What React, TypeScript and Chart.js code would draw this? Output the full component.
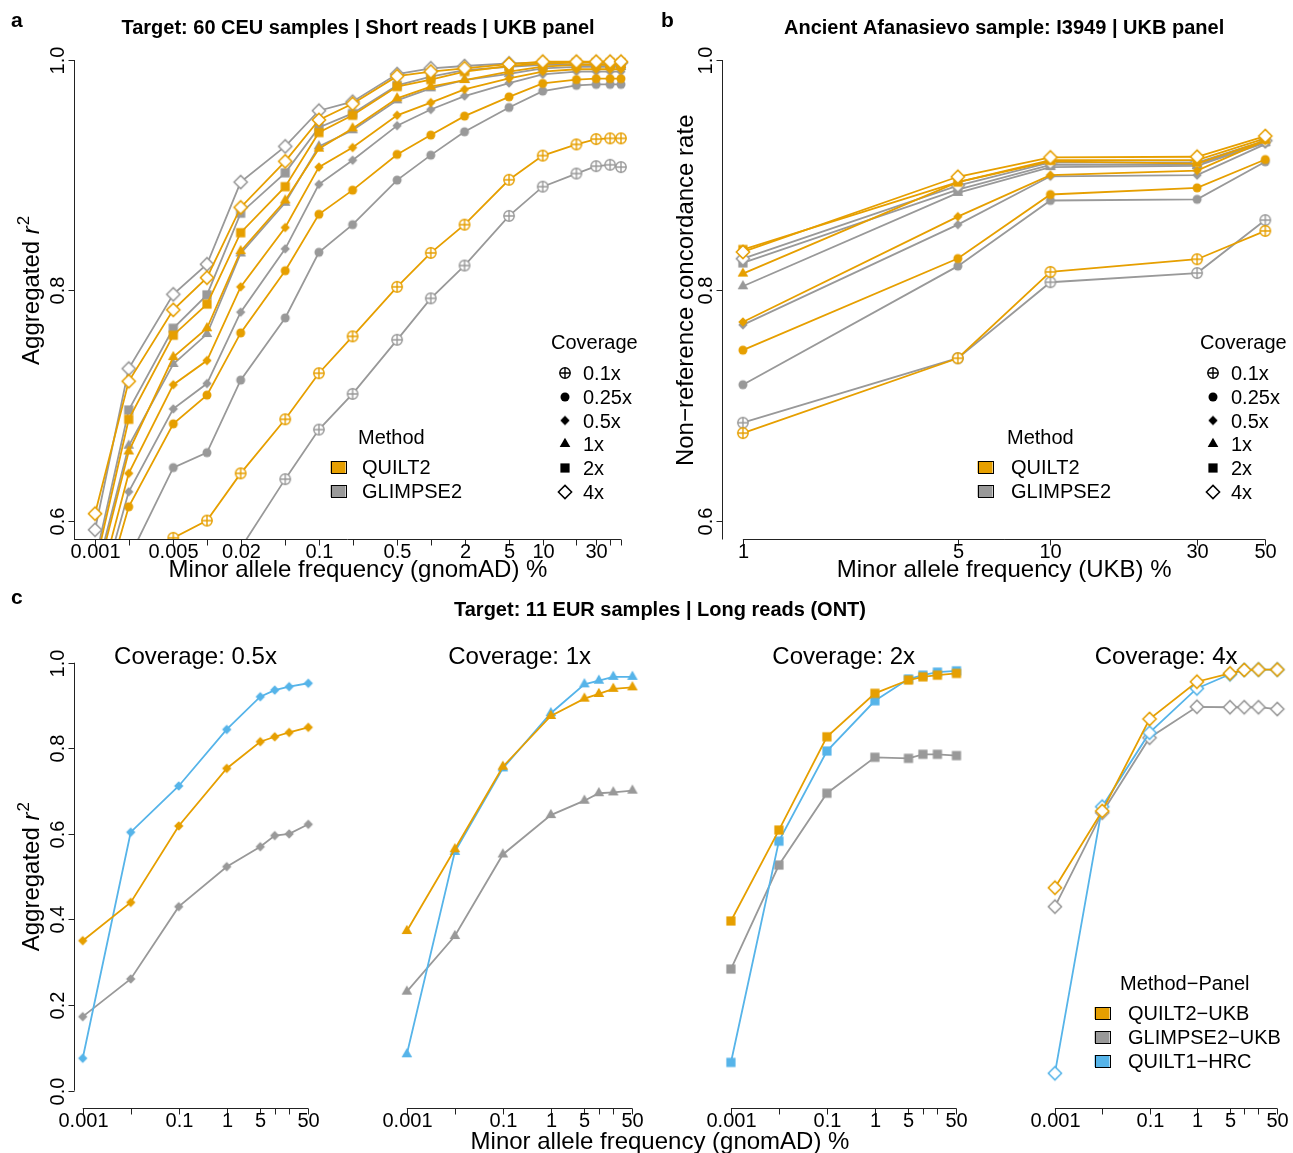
import React, { useEffect, useRef } from "react";
import { Chart, registerables } from "chart.js";
Chart.register(...registerables);

const W = 1293;
const H = 1153;
const ORANGE = "#E69F00";
const GRAY = "#999999";
const BLUE = "#56B4E9";
const FONT = '"Liberation Sans", Arial, Helvetica, sans-serif';

// ---------------- Panel a: 60 CEU, short reads, UKB panel ----------------
const mafA = [0.001, 0.002, 0.005, 0.01, 0.02, 0.05, 0.1, 0.2, 0.5, 1, 2, 5, 10, 20, 30, 40, 50];
const tickLabelsA = ["0.001", "", "0.005", "", "0.02", "", "0.1", "", "0.5", "", "2", "5", "10", "", "30", "", ""];
const a_QUILT2_4x = [0.606, 0.721, 0.783, 0.811, 0.872, 0.912, 0.948, 0.962, 0.986, 0.99, 0.9928, 0.9965, 0.9986, 0.9986, 0.9986, 0.9986, 0.9986];
const a_QUILT2_2x = [0.56, 0.688, 0.761, 0.788, 0.85, 0.89, 0.937, 0.952, 0.977, 0.983, 0.99, 0.9948, 0.997, 0.9977, 0.9977, 0.9977, 0.9977];
const a_QUILT2_1x = [0.545, 0.66, 0.742, 0.767, 0.834, 0.878, 0.923, 0.9406, 0.9667, 0.9768, 0.9826, 0.99, 0.9942, 0.9957, 0.9957, 0.9957, 0.9957];
const a_QUILT2_05x = [0.53, 0.641, 0.718, 0.739, 0.803, 0.8545, 0.907, 0.924, 0.952, 0.963, 0.9745, 0.984, 0.99, 0.992, 0.992, 0.992, 0.992];
const a_QUILT2_025x = [0.51, 0.612, 0.684, 0.709, 0.763, 0.817, 0.866, 0.887, 0.918, 0.9348, 0.9513, 0.968, 0.9797, 0.983, 0.9838, 0.9838, 0.9838];
const a_QUILT2_01x = [0.48, 0.53, 0.585, 0.6, 0.641, 0.688, 0.728, 0.76, 0.803, 0.8325, 0.857, 0.896, 0.917, 0.9267, 0.9313, 0.932, 0.932];
const a_GLIMPSE2_4x = [0.592, 0.732, 0.7965, 0.8226, 0.894, 0.925, 0.956, 0.9638, 0.9878, 0.9928, 0.9948, 0.997, 0.9977, 0.9977, 0.9977, 0.9977, 0.9977];
const a_GLIMPSE2_2x = [0.565, 0.696, 0.767, 0.796, 0.867, 0.902, 0.9415, 0.9536, 0.978, 0.9855, 0.9913, 0.994, 0.9957, 0.9957, 0.9957, 0.9957, 0.9957];
const a_GLIMPSE2_1x = [0.55, 0.665, 0.736, 0.762, 0.832, 0.876, 0.925, 0.939, 0.965, 0.9754, 0.9826, 0.988, 0.9928, 0.994, 0.994, 0.994, 0.994];
const a_GLIMPSE2_05x = [0.52, 0.625, 0.697, 0.719, 0.781, 0.836, 0.892, 0.913, 0.943, 0.957, 0.9687, 0.98, 0.9875, 0.99, 0.99, 0.99, 0.99];
const a_GLIMPSE2_025x = [0.48, 0.567, 0.646, 0.659, 0.722, 0.776, 0.833, 0.857, 0.8957, 0.9174, 0.9377, 0.9588, 0.973, 0.978, 0.9788, 0.9788, 0.9788];
const a_GLIMPSE2_01x = [0.44, 0.49, 0.53, 0.55, 0.576, 0.636, 0.679, 0.71, 0.757, 0.793, 0.8215, 0.8646, 0.89, 0.9014, 0.9078, 0.909, 0.907];

// ---------------- Panel b: ancient sample I3949 ----------------
const mafB = [1, 5, 10, 30, 50];
const tickLabelsB = ["1", "5", "10", "30", "50"];
const b_QUILT2_4x = [0.8333, 0.8986, 0.9154, 0.916, 0.934];
const b_QUILT2_2x = [0.8354, 0.894, 0.913, 0.913, 0.932];
const b_QUILT2_1x = [0.8145, 0.894, 0.912, 0.91, 0.93];
const b_QUILT2_05x = [0.7725, 0.864, 0.9, 0.904, 0.93];
const b_QUILT2_025x = [0.748, 0.8276, 0.8832, 0.889, 0.9136];
const b_QUILT2_01x = [0.676, 0.741, 0.816, 0.827, 0.8516];
const b_GLIMPSE2_4x = [0.8275, 0.891, 0.911, 0.911, 0.93];
const b_GLIMPSE2_2x = [0.8238, 0.8875, 0.909, 0.909, 0.929];
const b_GLIMPSE2_1x = [0.8035, 0.8846, 0.907, 0.908, 0.928];
const b_GLIMPSE2_05x = [0.77, 0.857, 0.899, 0.9, 0.927];
const b_GLIMPSE2_025x = [0.718, 0.821, 0.878, 0.879, 0.9116];
const b_GLIMPSE2_01x = [0.685, 0.741, 0.807, 0.815, 0.861];

// ---------------- Panel c: 11 EUR, long reads ----------------
const mafC = [0.001, 0.01, 0.1, 1, 5, 10, 20, 50];
const tickLabelsC = ["0.001", "", "0.1", "1", "5", "", "", "50"];
const c05_QUILT2 = [0.3505, 0.44, 0.6185, 0.753, 0.8155, 0.827, 0.837, 0.849];
const c05_QUILT1 = [0.0757, 0.604, 0.712, 0.844, 0.9206, 0.936, 0.944, 0.952];
const c05_GLIMPSE2 = [0.173, 0.261, 0.43, 0.5234, 0.57, 0.596, 0.6, 0.6224];
const c1_QUILT2 = [0.373, 0.564, 0.757, 0.8755, 0.916, 0.927, 0.939, 0.9425];
const c1_QUILT1 = [0.085, 0.558, 0.753, 0.882, 0.9495, 0.958, 0.967, 0.967];
const c1_GLIMPSE2 = [0.2314, 0.3614, 0.552, 0.644, 0.6776, 0.695, 0.697, 0.701];
const c2_QUILT2 = [0.3965, 0.609, 0.827, 0.9285, 0.9596, 0.967, 0.971, 0.975];
const c2_QUILT1 = [0.066, 0.583, 0.7937, 0.911, 0.962, 0.971, 0.978, 0.981];
const c2_GLIMPSE2 = [0.2843, 0.5273, 0.695, 0.779, 0.7766, 0.786, 0.786, 0.783];
const c4_QUILT2 = [0.4743, 0.6535, 0.8685, 0.9556, 0.975, 0.983, 0.984, 0.984];
const c4_QUILT1 = [0.0406, 0.6636, 0.8365, 0.94, 0.973, 0.983, 0.984, 0.984];
const c4_GLIMPSE2 = [0.43, 0.6495, 0.8248, 0.897, 0.896, 0.896, 0.896, 0.8918];

const coverageLabels = ["0.1x", "0.25x", "0.5x", "1x", "2x", "4x"];
const coverageMarkers = ["circlePlus", "circle", "diamondSmall", "triangle", "square", "diamondOpen"];
const yTicksAB = [0.6, 0.8, 1.0];
const yTickLabelsAB = ["0.6", "0.8", "1.0"];
const yTicksC = [0, 0.2, 0.4, 0.6, 0.8, 1.0];
const yTickLabelsC = ["0.0", "0.2", "0.4", "0.6", "0.8", "1.0"];

// ---------------- markers ----------------
const markerCache = new Map<string, HTMLCanvasElement>();
function getMarker(shape: string, color: string): HTMLCanvasElement {
  const key = shape + color;
  const cached = markerCache.get(key);
  if (cached) return cached;
  const s = 18;
  const c = document.createElement("canvas");
  c.width = s;
  c.height = s;
  const g = c.getContext("2d")!;
  const m = s / 2;
  g.fillStyle = color;
  g.strokeStyle = color;
  g.lineWidth = 1.4;
  if (shape === "circlePlus") {
    const r = 5.2;
    g.beginPath();
    g.arc(m, m, r, 0, Math.PI * 2);
    g.fillStyle = "#ffffff";
    g.fill();
    g.stroke();
    g.beginPath();
    g.moveTo(m - r, m);
    g.lineTo(m + r, m);
    g.moveTo(m, m - r);
    g.lineTo(m, m + r);
    g.stroke();
  } else if (shape === "circle") {
    g.beginPath();
    g.arc(m, m, 4.5, 0, Math.PI * 2);
    g.fill();
  } else if (shape === "diamondSmall") {
    const h = 4.7;
    g.beginPath();
    g.moveTo(m, m - h);
    g.lineTo(m + h, m);
    g.lineTo(m, m + h);
    g.lineTo(m - h, m);
    g.closePath();
    g.fill();
  } else if (shape === "triangle") {
    const xc = 3.95;
    g.beginPath();
    g.moveTo(m, m - 1.555 * xc);
    g.lineTo(m + 1.347 * xc, m + 0.778 * xc);
    g.lineTo(m - 1.347 * xc, m + 0.778 * xc);
    g.closePath();
    g.fill();
  } else if (shape === "square") {
    g.fillRect(m - 4.6, m - 4.6, 9.2, 9.2);
  } else if (shape === "diamondOpen") {
    const h = 6.6;
    g.lineWidth = 1.5;
    g.beginPath();
    g.moveTo(m, m - h);
    g.lineTo(m + h, m);
    g.lineTo(m, m + h);
    g.lineTo(m - h, m);
    g.closePath();
    g.fillStyle = "#ffffff";
    g.fill();
    g.stroke();
  }
  markerCache.set(key, c);
  return c;
}

// ---------------- drawing helpers ----------------
function txt(ctx: CanvasRenderingContext2D, s: string, x: number, y: number, size: number, align: CanvasTextAlign = "left", weight = "normal") {
  ctx.save();
  ctx.font = `${weight} ${size}px ${FONT}`;
  ctx.fillStyle = "#000";
  ctx.textAlign = align;
  ctx.textBaseline = "alphabetic";
  ctx.fillText(s, x, y);
  ctx.restore();
}

function vtxt(ctx: CanvasRenderingContext2D, s: string, x: number, cy: number, size: number) {
  ctx.save();
  ctx.translate(x, cy);
  ctx.rotate(-Math.PI / 2);
  ctx.font = `${size}px ${FONT}`;
  ctx.fillStyle = "#000";
  ctx.textAlign = "center";
  ctx.textBaseline = "alphabetic";
  ctx.fillText(s, 0, 0);
  ctx.restore();
}

function aggTitle(ctx: CanvasRenderingContext2D, x: number, cy: number) {
  ctx.save();
  ctx.translate(x, cy);
  ctx.rotate(-Math.PI / 2);
  const f1 = `24px ${FONT}`;
  const f2 = `italic 24px ${FONT}`;
  const f3 = `17px ${FONT}`;
  ctx.font = f1;
  const w1 = ctx.measureText("Aggregated ").width;
  ctx.font = f2;
  const w2 = ctx.measureText("r").width;
  ctx.font = f3;
  const w3 = ctx.measureText("2").width;
  let sx = -(w1 + w2 + w3 + 1) / 2;
  ctx.fillStyle = "#000";
  ctx.textAlign = "left";
  ctx.textBaseline = "alphabetic";
  ctx.font = f1;
  ctx.fillText("Aggregated ", sx, 0);
  sx += w1;
  ctx.font = f2;
  ctx.fillText("r", sx, 0);
  sx += w2 + 1;
  ctx.font = f3;
  ctx.fillText("2", sx, -10);
  ctx.restore();
}

function xAxis(chart: any, ticks: number[], labels: string[], fromPx: number, toPx: number) {
  const ctx: CanvasRenderingContext2D = chart.ctx;
  const y0 = Math.round(chart.chartArea.bottom) + 0.5;
  const xs = chart.scales.x;
  ctx.save();
  ctx.strokeStyle = "#222";
  ctx.lineWidth = 1;
  ctx.beginPath();
  ctx.moveTo(fromPx, y0);
  ctx.lineTo(toPx, y0);
  ctx.stroke();
  ticks.forEach((t, i) => {
    const px = Math.round(xs.getPixelForValue(t)) + 0.5;
    ctx.beginPath();
    ctx.moveTo(px, y0);
    ctx.lineTo(px, y0 + 6);
    ctx.stroke();
    if (labels[i]) txt(ctx, labels[i], px, y0 + 18, 20, "center");
  });
  ctx.restore();
}

function yAxis(chart: any, ticks: number[], labels: string[], fromPx: number, toPx: number) {
  const ctx: CanvasRenderingContext2D = chart.ctx;
  const x0 = Math.round(chart.chartArea.left) + 0.5;
  const ys = chart.scales.y;
  ctx.save();
  ctx.strokeStyle = "#222";
  ctx.lineWidth = 1;
  ctx.beginPath();
  ctx.moveTo(x0, fromPx);
  ctx.lineTo(x0, toPx);
  ctx.stroke();
  ticks.forEach((t, i) => {
    const py = Math.round(ys.getPixelForValue(t)) + 0.5;
    ctx.beginPath();
    ctx.moveTo(x0, py);
    ctx.lineTo(x0 - 6, py);
    ctx.stroke();
    if (labels[i]) vtxt(ctx, labels[i], x0 - 10.5, py, 20);
  });
  ctx.restore();
}

function coverageLegend(ctx: CanvasRenderingContext2D, titleX: number, symX: number, labelX: number) {
  txt(ctx, "Coverage", titleX, 349, 20);
  const rows = [373, 397, 420.5, 444, 468, 492];
  rows.forEach((ry, i) => {
    const m = getMarker(coverageMarkers[i], "#000000");
    ctx.drawImage(m, symX - m.width / 2, ry - m.height / 2);
    txt(ctx, coverageLabels[i], labelX, ry + 7, 20);
  });
}

function boxLegend(ctx: CanvasRenderingContext2D, title: string, titleX: number, titleY: number, boxX: number, labelX: number, items: { label: string; color: string; y: number }[]) {
  txt(ctx, title, titleX, titleY + 7, 20);
  items.forEach((it) => {
    ctx.save();
    ctx.fillStyle = it.color;
    ctx.fillRect(boxX - 7.5, it.y - 6, 15, 12);
    ctx.strokeStyle = "#000";
    ctx.lineWidth = 1;
    ctx.strokeRect(Math.round(boxX - 7.5) + 0.5, Math.round(it.y - 6) + 0.5, 15, 12);
    ctx.restore();
    txt(ctx, it.label, labelX, it.y + 7, 20);
  });
}

// ---------------- chart config ----------------
type SeriesSpec = { label: string; x: number[]; y: number[]; color: string; marker: string };
type PanelSpec = {
  area: { left: number; right: number; top: number; bottom: number };
  xRange: [number, number];
  yRange: [number, number];
  series: SeriesSpec[];
  decorate: (chart: any) => void;
};

function logPad(lo: number, hi: number): [number, number] {
  const a = Math.log10(lo);
  const b = Math.log10(hi);
  const d = 0.04 * (b - a);
  return [Math.pow(10, a - d), Math.pow(10, b + d)];
}

function buildConfig(p: PanelSpec): any {
  return {
    type: "line",
    data: {
      datasets: p.series.map((s) => ({
        label: s.label,
        data: s.x.map((xv, i) => ({ x: xv, y: s.y[i] })),
        borderColor: s.color,
        backgroundColor: s.color,
        borderWidth: 1.8,
        pointStyle: getMarker(s.marker, s.color),
        pointRadius: 5,
        pointHoverRadius: 5,
        tension: 0,
        fill: false,
        clip: { left: 40, top: 40, right: 40, bottom: 0 },
      })),
    },
    options: {
      responsive: false,
      animation: false,
      events: [],
      devicePixelRatio: 1,
      layout: {
        padding: { left: p.area.left, top: p.area.top, right: W - p.area.right, bottom: H - p.area.bottom },
      },
      scales: {
        x: { type: "logarithmic", min: p.xRange[0], max: p.xRange[1], display: false, bounds: "data" },
        y: { type: "linear", min: p.yRange[0], max: p.yRange[1], display: false, bounds: "data" },
      },
      plugins: { legend: { display: false }, tooltip: { enabled: false }, title: { display: false } },
    },
    plugins: [{ id: "decor", afterDraw: (chart: any) => p.decorate(chart) }],
  };
}

function covSeries(x: number[], q: number[][], g: number[][]): SeriesSpec[] {
  // q/g indexed by coverage 0.1x..4x; QUILT2 (orange) listed first so it is drawn on top
  const out: SeriesSpec[] = [];
  for (let i = 5; i >= 0; i--) out.push({ label: "QUILT2 " + coverageLabels[i], x, y: q[i], color: ORANGE, marker: coverageMarkers[i] });
  for (let i = 5; i >= 0; i--) out.push({ label: "GLIMPSE2 " + coverageLabels[i], x, y: g[i], color: GRAY, marker: coverageMarkers[i] });
  return out;
}

const areaA = { left: 74, right: 642, top: 41.6, bottom: 539 };
const areaB = { left: 722, right: 1289, top: 41.6, bottom: 539 };
const yRangeAB: [number, number] = [0.584, 1.016];

const panelA: PanelSpec = {
  area: areaA,
  xRange: logPad(0.001, 50),
  yRange: yRangeAB,
  series: covSeries(
    mafA,
    [a_QUILT2_01x, a_QUILT2_025x, a_QUILT2_05x, a_QUILT2_1x, a_QUILT2_2x, a_QUILT2_4x],
    [a_GLIMPSE2_01x, a_GLIMPSE2_025x, a_GLIMPSE2_05x, a_GLIMPSE2_1x, a_GLIMPSE2_2x, a_GLIMPSE2_4x]
  ),
  decorate: (chart) => {
    const ctx = chart.ctx as CanvasRenderingContext2D;
    const ca = chart.chartArea;
    const xs = chart.scales.x;
    const ys = chart.scales.y;
    xAxis(chart, mafA, tickLabelsA, ca.left, xs.getPixelForValue(50));
    yAxis(chart, yTicksAB, yTickLabelsAB, ys.getPixelForValue(1.0), Math.round(ca.bottom) + 0.5);
    txt(ctx, "a", 11, 27, 21, "left", "bold");
    txt(ctx, "Target: 60 CEU samples | Short reads | UKB panel", (ca.left + ca.right) / 2, 34, 20, "center", "bold");
    txt(ctx, "Minor allele frequency (gnomAD) %", (ca.left + ca.right) / 2, 577, 24, "center");
    aggTitle(ctx, 39, (ca.top + ca.bottom) / 2);
    coverageLegend(ctx, 551, 565, 583);
    boxLegend(ctx, "Method", 358, 437, 338, 362, [
      { label: "QUILT2", color: ORANGE, y: 467 },
      { label: "GLIMPSE2", color: GRAY, y: 491 },
    ]);
  },
};

const panelB: PanelSpec = {
  area: areaB,
  xRange: logPad(1, 50),
  yRange: yRangeAB,
  series: covSeries(
    mafB,
    [b_QUILT2_01x, b_QUILT2_025x, b_QUILT2_05x, b_QUILT2_1x, b_QUILT2_2x, b_QUILT2_4x],
    [b_GLIMPSE2_01x, b_GLIMPSE2_025x, b_GLIMPSE2_05x, b_GLIMPSE2_1x, b_GLIMPSE2_2x, b_GLIMPSE2_4x]
  ),
  decorate: (chart) => {
    const ctx = chart.ctx as CanvasRenderingContext2D;
    const ca = chart.chartArea;
    const xs = chart.scales.x;
    const ys = chart.scales.y;
    xAxis(chart, mafB, tickLabelsB, xs.getPixelForValue(1), xs.getPixelForValue(50));
    yAxis(chart, yTicksAB, yTickLabelsAB, ys.getPixelForValue(1.0), Math.round(ca.bottom) + 0.5);
    txt(ctx, "b", 661, 27, 21, "left", "bold");
    txt(ctx, "Ancient Afanasievo sample: I3949 | UKB panel", (ca.left + ca.right) / 2, 34, 20, "center", "bold");
    txt(ctx, "Minor allele frequency (UKB) %", (ca.left + ca.right) / 2, 577, 24, "center");
    vtxt(ctx, "Non\u2212reference concordance rate", 693, (ca.top + ca.bottom) / 2, 24);
    coverageLegend(ctx, 1200, 1213, 1231);
    boxLegend(ctx, "Method", 1007, 437, 985, 1011, [
      { label: "QUILT2", color: ORANGE, y: 467 },
      { label: "GLIMPSE2", color: GRAY, y: 491 },
    ]);
  },
};

const cPanelTitles = ["Coverage: 0.5x", "Coverage: 1x", "Coverage: 2x", "Coverage: 4x"];
const cMarkers = ["diamondSmall", "triangle", "square", "diamondOpen"];
const cData = [
  [c05_QUILT2, c05_QUILT1, c05_GLIMPSE2],
  [c1_QUILT2, c1_QUILT1, c1_GLIMPSE2],
  [c2_QUILT2, c2_QUILT1, c2_GLIMPSE2],
  [c4_QUILT2, c4_QUILT1, c4_GLIMPSE2],
];

function panelC(k: number): PanelSpec {
  const left = 73.7 + 324.1 * k;
  const [q2, q1, g2] = cData[k];
  const mk = cMarkers[k];
  return {
    area: { left, right: left + 243.6, top: 645.6, bottom: 1107.8 },
    xRange: logPad(0.001, 50),
    yRange: [-0.04, 1.04],
    series: [
      { label: "QUILT2-UKB", x: mafC, y: q2, color: ORANGE, marker: mk },
      { label: "QUILT1-HRC", x: mafC, y: q1, color: BLUE, marker: mk },
      { label: "GLIMPSE2-UKB", x: mafC, y: g2, color: GRAY, marker: mk },
    ],
    decorate: (chart) => {
      const ctx = chart.ctx as CanvasRenderingContext2D;
      const ca = chart.chartArea;
      const xs = chart.scales.x;
      const ys = chart.scales.y;
      xAxis(chart, mafC, tickLabelsC, xs.getPixelForValue(0.001), xs.getPixelForValue(50));
      txt(ctx, cPanelTitles[k], (ca.left + ca.right) / 2, 664, 24, "center");
      if (k === 0) {
        yAxis(chart, yTicksC, yTickLabelsC, ys.getPixelForValue(1.0), ys.getPixelForValue(0));
        aggTitle(ctx, 39, (ca.top + ca.bottom) / 2);
        txt(ctx, "c", 11, 604, 21, "left", "bold");
        txt(ctx, "Target: 11 EUR samples | Long reads (ONT)", 660, 616, 20, "center", "bold");
        txt(ctx, "Minor allele frequency (gnomAD) %", 660, 1149, 24, "center");
      }
      if (k === 3) {
        boxLegend(ctx, "Method\u2212Panel", 1120, 983, 1102, 1128, [
          { label: "QUILT2\u2212UKB", color: ORANGE, y: 1013 },
          { label: "GLIMPSE2\u2212UKB", color: GRAY, y: 1037 },
          { label: "QUILT1\u2212HRC", color: BLUE, y: 1061 },
        ]);
      }
    },
  };
}

function ChartLayer({ spec }: { spec: PanelSpec }) {
  const ref = useRef<HTMLCanvasElement>(null);
  useEffect(() => {
    const chart = new Chart(ref.current!, buildConfig(spec));
    return () => chart.destroy();
  }, [spec]);
  return (
    <canvas
      ref={ref}
      width={W}
      height={H}
      style={{ position: "absolute", left: 0, top: 0, width: W, height: H }}
    />
  );
}

const allPanels: PanelSpec[] = [panelA, panelB, panelC(0), panelC(1), panelC(2), panelC(3)];

export default function App() {
  return (
    <div style={{ position: "absolute", left: 0, top: 0, width: W, height: H, background: "#fff", overflow: "hidden" }}>
      {allPanels.map((p, i) => (
        <ChartLayer key={i} spec={p} />
      ))}
    </div>
  );
}
